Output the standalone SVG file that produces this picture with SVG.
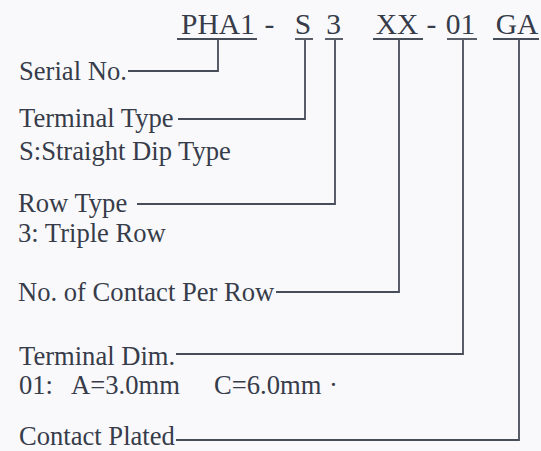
<svg xmlns="http://www.w3.org/2000/svg" width="541" height="451" viewBox="0 0 541 451">
<style>
.t{font-family:"Liberation Serif","Times New Roman",serif;font-size:26.6px;fill:#373c4a}
.h{font-family:"Liberation Serif","Times New Roman",serif;font-size:29.5px;fill:#373c4a;text-anchor:middle}
.c{fill:none;stroke:#474c59;stroke-width:1.8}
.u{stroke:#474c59;stroke-width:1.8}
</style>
<rect width="541" height="451" fill="#f9f9fb"/>
<g id="code">
<text class="h" x="218" y="34">PHA1</text>
<text class="h" x="269.5" y="34">-</text>
<text class="h" x="303" y="34">S</text>
<text class="h" x="333.5" y="34">3</text>
<text class="h" x="397" y="34">XX</text>
<text class="h" x="431.5" y="34">-</text>
<text class="h" x="460.5" y="34">01</text>
<text class="h" x="517" y="34">GA</text>
<line class="u" x1="177" y1="39" x2="257" y2="39"/>
<line class="u" x1="295" y1="39" x2="313" y2="39"/>
<line class="u" x1="325" y1="39" x2="343" y2="39"/>
<line class="u" x1="373" y1="39" x2="423" y2="39"/>
<line class="u" x1="447" y1="39" x2="477" y2="39"/>
<line class="u" x1="493" y1="39" x2="539" y2="39"/>
</g>
<g id="serial"><text class="t" x="19" y="80">Serial No.</text></g>
<g id="terminal-type"><text class="t" x="19" y="127">Terminal Type</text><text class="t" x="19" y="160">S:Straight Dip Type</text></g>
<g id="row-type"><text class="t" x="18" y="212">Row Type</text><text class="t" x="18" y="242">3: Triple Row</text></g>
<g id="contacts"><text class="t" x="18" y="301">No. of Contact Per Row</text></g>
<g id="terminal-dim"><text class="t" x="19" y="365">Terminal Dim.</text><text class="t" y="394"><tspan x="19">01:</tspan><tspan x="71">A=3.0mm</tspan><tspan x="214">C=6.0mm</tspan><tspan x="329">·</tspan></text></g>
<g id="plated"><text class="t" x="19" y="445">Contact Plated</text></g>
<g id="connectors">
<path class="c" d="M128,71H218V40"/>
<path class="c" d="M178,119H305V40"/>
<path class="c" d="M137,204H335V40"/>
<path class="c" d="M276,292H399V40"/>
<path class="c" d="M176,354H463V40"/>
<path class="c" d="M176,440H519V40"/>
</g>
</svg>
